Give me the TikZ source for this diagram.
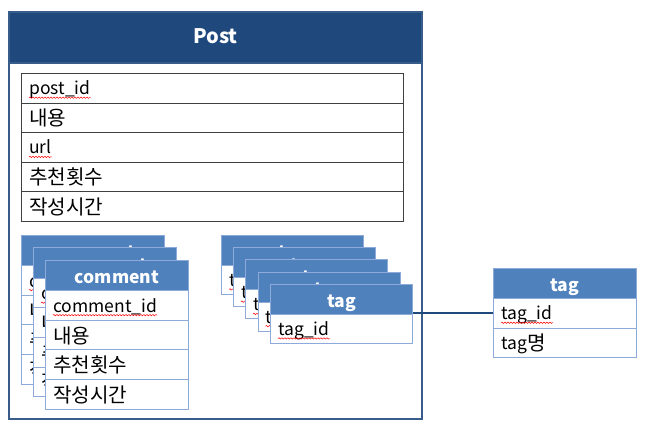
\documentclass[tikz,border=0pt]{standalone}
\usepackage{fontspec}
\setmainfont{Noto Sans CJK KR}
\newfontfamily\krfont{Noto Sans CJK KR}[Scale=1.15]
\newcommand\ko[1]{\raisebox{-1.5pt}{\krfont #1}}
\usetikzlibrary{decorations.pathmorphing}
\definecolor{postHead}{HTML}{1F497D}
\definecolor{postLine}{HTML}{385D8A}
\definecolor{cardHead}{HTML}{4F81BD}
\definecolor{cardLine}{HTML}{8EAADB}
\tikzset{
  cardhead/.style={draw=cardLine, line width=0.8pt, fill=cardHead, inner sep=0pt},
  headtext/.style={inner sep=0pt, anchor=base, text=white, font=\fontsize{17.5}{20}\selectfont\bfseries},
  cardrow/.style={draw=cardLine, line width=0.8pt, fill=white, inner sep=0pt},
  postrow/.style={draw=black!75, line width=0.8pt, fill=white, inner sep=0pt},
  rowtext/.style={inner sep=0pt, anchor=base west, font=\fontsize{17.5}{20}\selectfont},
  spell/.style={draw=red, line width=0.5pt, decorate,
    decoration={snake, segment length=3pt, amplitude=0.7pt}},
  conn/.style={draw=postHead, line width=1.8pt}
}
% #1 name, #2 x, #3 y, #4 width, #5 header height, #6 row height, #7 header, #8 rows
\newcommand\erdcard[8]{%
  \node[cardhead, minimum width=#4pt, minimum height=#5pt, anchor=north west] (#1-h) at (#2,#3) {};
  \node[headtext] (#1-ht) at ([yshift=-23.8pt]#1-h.north) {#7};
  \foreach \t [count=\i] in {#8} {
    \node[cardrow, minimum width=#4pt, minimum height=#6pt, anchor=north west]
      (#1-r\i) at (#2,{#3+#5+(\i-1)*#6}) {};
    \node[rowtext] (#1-t\i) at ([xshift=8pt,yshift=-6.5pt]#1-r\i.west) {\t};
  }
  \draw[spell] ([yshift=-3pt]#1-t1.base west) -- ([yshift=-3pt]#1-t1.base east);
}
\begin{document}
\begin{tikzpicture}[x=1pt,y=-1pt]
\useasboundingbox (0,0) rectangle (648,430);
% Post container
\node[draw=postLine, line width=2pt, fill=white, minimum width=413pt, minimum height=407pt,
  anchor=north west, inner sep=0pt] (post) at (8,11) {};
\node[fill=postHead, draw=postLine, line width=2pt, minimum width=413pt, minimum height=51pt,
  anchor=north west, inner sep=0pt] (post-h) at (8,11) {};
\node[headtext, font=\fontsize{20}{24}\selectfont\bfseries] (post-ht)
  at ([yshift=-33pt]post-h.north) {Post};
% Post attribute table
\foreach \t [count=\i] in {post\_id,\ko{내용},url,\ko{추천횟수},\ko{작성시간}} {
  \node[postrow, minimum width=382pt, minimum height=29.6pt, anchor=north west]
    (post-r\i) at (21,{73+(\i-1)*29.6}) {};
  \node[rowtext] (post-t\i) at ([xshift=8pt,yshift=-6.5pt]post-r\i.west) {\t};
}
\draw[spell] ([yshift=-3pt]post-t1.base west) -- ([yshift=-3pt]post-t1.base east);
\draw[spell] ([yshift=-3pt]post-t3.base west) -- ([yshift=-3pt]post-t3.base east);
% comment stack
\erdcard{cmA}{21}{235}{143}{30.5}{29.5}{comment}{comment\_id,\ko{내용},\ko{추천횟수},\ko{작성시간}}
\erdcard{cmB}{33}{247.5}{143}{30.5}{29.5}{comment}{comment\_id,\ko{내용},\ko{추천횟수},\ko{작성시간}}
\erdcard{cmC}{45}{260}{143}{30.5}{29.5}{comment}{comment\_id,\ko{내용},\ko{추천횟수},\ko{작성시간}}
% tag stack
\erdcard{tgA}{221}{235}{142}{30}{29}{tag}{tag\_id}
\erdcard{tgB}{233}{247.25}{142}{30}{29}{tag}{tag\_id}
\erdcard{tgC}{245}{259.5}{142}{30}{29}{tag}{tag\_id}
\erdcard{tgD}{257.5}{271.75}{142}{30}{29}{tag}{tag\_id}
\erdcard{tgE}{270}{284}{142}{30}{29}{tag}{tag\_id}
% tag entity
\erdcard{tagR}{493}{268}{143}{30}{29.7}{tag}{tag\_id,tag\ko{명}}
% connector
\draw[conn] (tgE-r1.east |- tagR-r1.west) -- (tagR-r1.west);
\end{tikzpicture}
\end{document}
